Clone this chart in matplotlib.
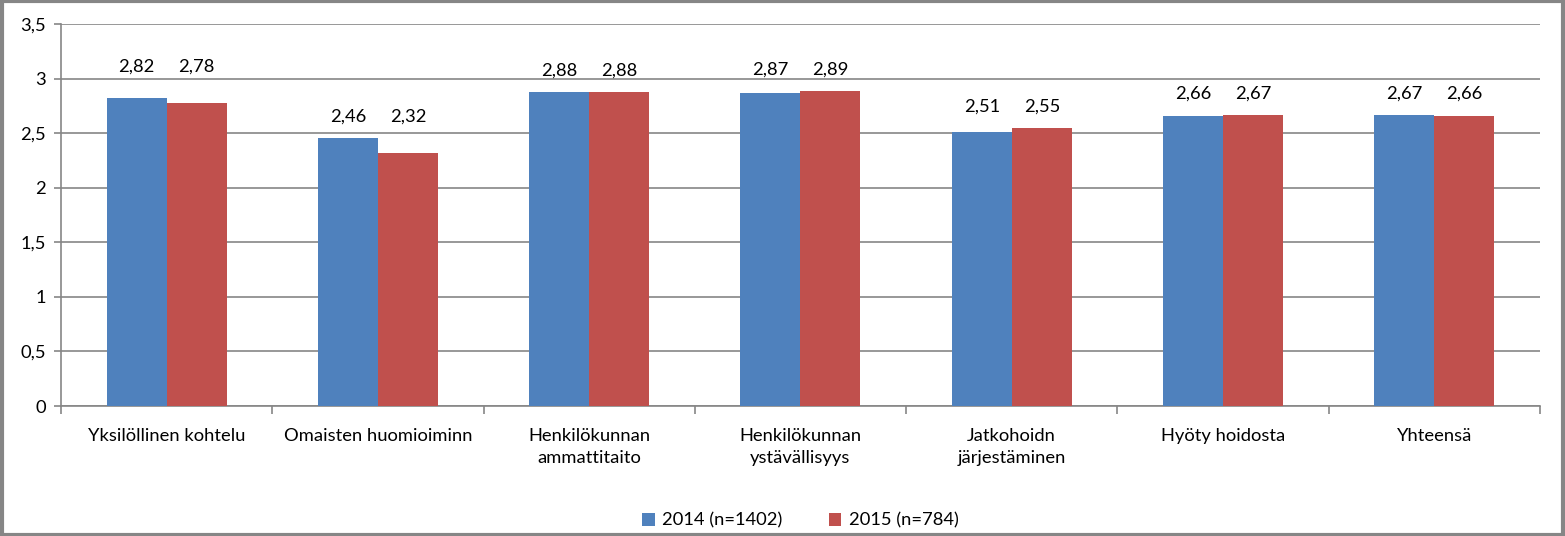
import matplotlib.pyplot as plt
import numpy as np

# tiedot
kategoriat = ['Yksilöllinen kohtelu', 'Omaisten huomioiminn', 'Henkilökunnan\nammattitaito',
              'Henkilökunnan\nystävällisyys', 'Jatkohoidn\njärjestäminen', 'Hyöty hoidosta', 'Yhteensä']
v2014 = [2.82, 2.46, 2.88, 2.87, 2.51, 2.66, 2.67]
v2015 = [2.78, 2.32, 2.88, 2.89, 2.55, 2.67, 2.66]
sarjat = ['2014 (n=1402)', '2015 (n=784)']

plt.rcParams['font.family'] = ['Lato', 'DejaVu Sans']
fs = 13.2

fig = plt.figure(figsize=(15.65, 5.36), dpi=100)
ax = fig.add_axes([0.039, 0.2425, 0.945, 0.7125])

x = np.arange(len(kategoriat))
w = 0.284
sin = '#4f81bd'
pun = '#c0504d'
b1 = ax.bar(x - w / 2, v2014, w, color=sin, label=sarjat[0], zorder=3)
b2 = ax.bar(x + w / 2, v2015, w, color=pun, label=sarjat[1], zorder=3)

# arvot palkkien yläpuolelle
for i in range(len(x)):
    top = max(v2014[i], v2015[i])
    lisa = 32 if i == 0 else 21
    for xx, v in [(x[i] - w / 2, v2014[i]), (x[i] + w / 2, v2015[i])]:
        ax.annotate(f'{v:.2f}'.replace('.', ','), (xx, top), xytext=(0, lisa),
                    textcoords='offset pixels', ha='center', va='center', fontsize=fs)

ax.set_xlim(-0.5, len(x) - 0.5)
ax.set_ylim(0, 3.5)
ax.set_yticks(np.arange(0, 3.51, 0.5))
ax.set_yticklabels([f'{t:g}'.replace('.', ',') for t in np.arange(0, 3.51, 0.5)], fontsize=fs)
ax.yaxis.grid(True, color='#868686', linewidth=1.2, zorder=0)

ax.set_xticks(np.arange(-0.5, len(x), 1.0))
ax.set_xticklabels([])
ax.set_xticks(x, minor=True)
ax.set_xticklabels(kategoriat, minor=True, fontsize=fs, linespacing=1.45, va='top')
ax.tick_params(axis='x', which='minor', length=0, pad=16)
ax.tick_params(axis='x', which='major', length=6, color='#868686', width=1.2)
ax.tick_params(axis='y', length=5, color='#868686', width=1.2, pad=6)

for s in ['top', 'right']:
    ax.spines[s].set_visible(False)
for s in ['left', 'bottom']:
    ax.spines[s].set_color('#868686')
    ax.spines[s].set_linewidth(1.2)

ax.legend(loc='center', bbox_to_anchor=(0.5, -0.3), ncol=2, frameon=False,
          fontsize=fs, handlelength=0.7, handleheight=0.7, columnspacing=2.5, handletextpad=0.4)

# reunus
fig.patches.append(plt.Rectangle((0.001, 0.002), 0.998, 0.996, transform=fig.transFigure,
                                 fill=False, edgecolor='#868686', linewidth=3))

fig.savefig('out.png', dpi=100)
